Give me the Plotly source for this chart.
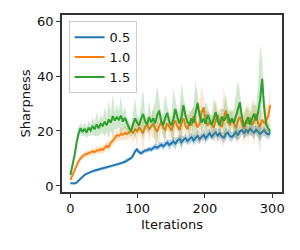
import plotly.graph_objects as go

iterations = list(range(0, 300, 3))

blue_mean = [1.0, 0.9, 0.9, 1.2, 2.0, 2.8, 3.5, 4.0, 4.4, 4.8,
             5.1, 5.4, 5.6, 5.8, 6.0, 6.2, 6.3, 6.5, 6.7, 6.9,
             7.1, 7.3, 7.5, 7.7, 7.9, 8.2, 8.5, 8.8, 9.2, 9.6,
             10.1, 11.0, 12.5, 13.3, 12.3, 11.9, 12.4, 12.9, 13.0, 13.4,
             13.2, 13.8, 14.3, 13.9, 14.6, 15.0, 14.4, 15.3, 15.8, 14.9,
             15.6, 16.2, 15.4, 16.5, 17.1, 15.9, 16.8, 17.4, 16.3, 17.0,
             17.8, 16.6, 17.5, 18.2, 17.0, 17.9, 18.6, 17.3, 18.4, 19.2,
             17.9, 18.8, 19.5, 18.3, 19.2, 18.0, 17.6, 18.9, 19.4, 18.2,
             17.8, 18.7, 19.6, 18.4, 19.9, 20.3, 19.1, 20.6, 19.5, 20.8,
             20.1, 19.4, 20.5, 19.8, 18.9, 19.6, 20.4, 19.2, 18.7, 19.5]
blue_sd = [0.3, 0.3, 0.3, 0.3, 0.4, 0.4, 0.4, 0.4, 0.4, 0.4,
           0.4, 0.4, 0.4, 0.5, 0.4, 0.5, 0.4, 0.5, 0.5, 0.4,
           0.5, 0.5, 0.5, 0.5, 0.5, 0.6, 0.5, 0.6, 0.6, 0.6,
           0.6, 0.8, 0.9, 0.8, 0.7, 0.8, 0.9, 0.7, 0.9, 1.0,
           1.0, 0.9, 1.2, 1.0, 1.3, 1.1, 1.5, 1.0, 1.4, 2.0,
           1.2, 1.6, 2.2, 1.3, 1.6, 2.4, 1.4, 1.8, 1.2, 2.0,
           1.5, 1.9, 1.3, 2.6, 1.6, 1.4, 2.1, 1.5, 2.0, 1.7,
           1.3, 2.0, 1.6, 2.3, 1.8, 1.4, 1.9, 2.4, 1.5, 2.0,
           1.7, 1.3, 2.2, 1.8, 2.6, 1.5, 2.0, 2.3, 1.6, 2.1,
           1.8, 2.4, 1.4, 2.0, 2.5, 1.7, 2.2, 1.5, 1.9, 1.6]

orange_mean = [2.2, 3.8, 5.6, 7.6, 8.9, 10.0, 10.8, 11.4, 11.6, 11.9,
               12.1, 12.6, 12.3, 13.0, 12.8, 13.4, 13.1, 13.9, 14.6, 14.2,
               15.8, 16.4, 17.6, 18.5, 18.2, 18.9, 18.6, 19.4, 18.8, 19.6,
               20.1, 19.3, 20.6, 19.8, 21.2, 20.4, 19.2, 21.5, 22.3, 20.7,
               21.8, 22.6, 20.9, 19.8, 21.7, 23.4, 21.2, 20.5, 22.8, 21.4,
               20.1, 22.2, 23.8, 21.6, 20.4, 22.9, 24.6, 21.8, 20.6, 23.2,
               22.0, 25.4, 23.1, 21.3, 22.7, 26.8, 28.6, 24.2, 21.9, 23.5,
               22.4, 21.2, 23.9, 25.8, 22.6, 21.4, 24.8, 27.4, 23.3, 22.1,
               24.6, 22.8, 21.0, 23.7, 25.2, 22.4, 20.8, 23.9, 22.6, 24.9,
               22.2, 23.4, 26.2, 22.7, 21.5, 24.1, 22.9, 23.8, 25.4, 29.5]
orange_sd = [0.4, 0.6, 0.8, 0.9, 1.0, 1.0, 1.1, 1.0, 1.2, 1.1,
             1.2, 1.4, 1.1, 1.5, 1.3, 1.6, 1.2, 1.7, 1.5, 1.9,
             1.6, 2.0, 1.8, 2.2, 1.7, 2.4, 2.0, 2.6, 2.2, 2.8,
             2.0, 4.2, 2.2, 5.5, 2.4, 2.8, 7.0, 3.2, 2.2, 4.8,
             2.6, 6.0, 2.4, 3.6, 7.5, 2.6, 3.0, 5.2, 2.4, 3.8,
             2.6, 6.5, 3.0, 2.4, 4.6, 8.5, 2.8, 3.6, 5.6, 2.6,
             6.2, 3.2, 2.6, 4.0, 7.6, 10.0, 3.8, 2.8, 5.4, 3.2,
             2.6, 5.0, 8.0, 3.0, 2.6, 5.8, 11.0, 3.4, 2.8, 6.2,
             3.0, 2.4, 5.2, 7.4, 3.2, 2.6, 6.6, 3.4, 7.8, 2.8,
             4.0, 8.6, 3.0, 2.6, 6.0, 3.2, 4.6, 6.4, 3.6, 7.5]

green_mean = [4.0, 7.0, 11.0, 15.5, 19.0, 21.0, 19.6, 20.8, 19.4, 21.2,
              20.2, 21.8, 20.6, 22.4, 21.0, 22.6, 21.9, 23.4, 22.1, 24.2,
              23.0, 25.4, 23.8, 25.0, 24.2, 25.6, 23.4, 24.8, 22.6, 21.2,
              20.0, 22.8, 24.6, 23.1, 22.0, 24.4, 26.2, 23.5, 22.4, 25.0,
              23.2, 24.6, 22.8, 25.8, 27.4, 23.6, 22.1, 24.9, 26.6, 23.4,
              22.0, 24.2, 28.0, 25.1, 22.7, 24.8, 29.4, 25.6, 23.2, 22.4,
              24.6, 23.0, 26.4, 30.2, 25.7, 23.1, 24.5, 22.6, 25.9, 23.8,
              22.2, 24.4, 26.8, 23.5, 22.1, 25.2, 23.7, 24.9, 26.1, 23.0,
              24.6, 22.9, 25.4, 27.6, 30.4, 24.8, 21.6, 23.2, 25.0, 22.4,
              24.2, 26.3, 23.8, 26.8, 31.5, 39.0, 28.5, 22.3, 21.0, 19.8]
green_sd = [0.6, 1.0, 1.5, 2.0, 2.2, 2.0, 1.8, 2.4, 2.0, 2.8,
            2.0, 3.2, 2.2, 4.5, 2.4, 3.6, 2.5, 5.5, 2.6, 7.0,
            2.8, 8.0, 3.0, 4.5, 2.8, 7.0, 3.0, 4.0, 2.6, 2.4,
            2.2, 3.5, 7.5, 2.8, 2.4, 5.0, 9.0, 2.8, 2.5, 6.0,
            2.6, 3.2, 8.0, 10.5, 2.8, 2.4, 4.5, 8.5, 2.6, 2.4,
            3.2, 11.0, 3.4, 2.6, 4.0, 12.5, 3.2, 2.8, 2.4, 5.0,
            2.6, 6.5, 11.5, 3.4, 2.4, 4.2, 2.8, 8.0, 3.0, 2.4,
            3.6, 7.5, 2.8, 2.4, 6.0, 3.0, 4.4, 8.5, 2.6, 3.8,
            2.6, 5.0, 8.0, 11.0, 3.6, 2.4, 3.8, 6.0, 2.8, 4.0,
            6.5, 3.0, 5.5, 9.5, 20.0, 7.0, 3.0, 2.6, 2.2, 2.0]

series = [
    ("0.5", blue_mean, blue_sd, "#1f77b4", "rgba(31,119,180,0.3)"),
    ("1.0", orange_mean, orange_sd, "#ff7f0e", "rgba(255,127,14,0.2)"),
    ("1.5", green_mean, green_sd, "#2ca02c", "rgba(44,160,44,0.24)"),
]

fig = go.Figure()
for name, mean, sd, color, fillc in series:
    upper = [m + s for m, s in zip(mean, sd)]
    lower = [m - s for m, s in zip(mean, sd)]
    fig.add_trace(go.Scatter(
        x=iterations + iterations[::-1],
        y=upper + lower[::-1],
        fill="toself", fillcolor=fillc, line=dict(width=0),
        mode="lines", showlegend=False, hoverinfo="skip"))
    fig.add_trace(go.Scatter(
        x=iterations, y=mean, mode="lines", name=name,
        line=dict(color=color, width=2)))

axis_common = dict(
    showline=True, linecolor="#333333", linewidth=1.6, mirror=True,
    ticks="outside", ticklen=4, tickwidth=1.2, tickcolor="#333333",
    showgrid=False, zeroline=False, automargin=False,
    tickfont=dict(family="DejaVu Sans", size=13, color="#111111"),
)

# page body has an 8px margin, so the figure is offset by (8, 8)
fig.update_layout(
    width=292, height=242,
    margin=dict(l=54, r=18, t=7, b=58),
    paper_bgcolor="white", plot_bgcolor="white",
    font=dict(family="DejaVu Sans", size=13, color="#111111"),
    xaxis=dict(range=[-12.5, 314.5], tickvals=[0, 100, 200, 300],
               title=dict(text="Iterations", standoff=4,
                          font=dict(family="DejaVu Sans", size=13)),
               **axis_common),
    yaxis=dict(range=[-2.2, 62.2], tickvals=[0, 20, 40, 60],
               title=dict(text="Sharpness", standoff=4,
                          font=dict(family="DejaVu Sans", size=13)),
               **axis_common),
    legend=dict(x=0.03, y=0.965, xanchor="left", yanchor="top",
                bgcolor="rgba(255,255,255,0.85)", bordercolor="#cccccc",
                borderwidth=1, font=dict(family="DejaVu Sans", size=13),
                tracegroupgap=0, itemwidth=30),
    hovermode=False,
)

fig.write_html("out.html")
